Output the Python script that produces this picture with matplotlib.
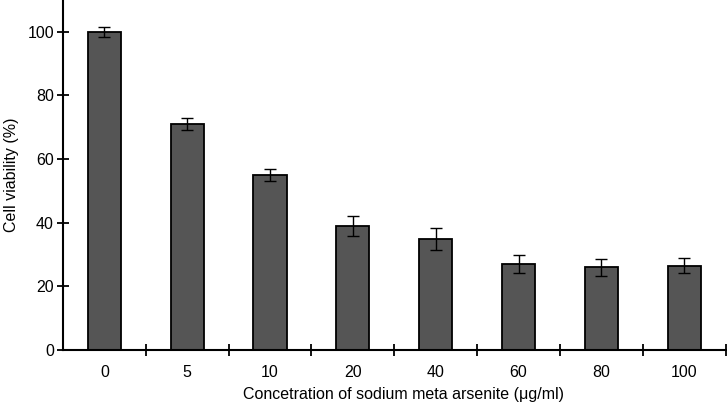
import matplotlib.pyplot as plt
import numpy as np

plt.rcParams['font.family'] = ['Liberation Sans', 'DejaVu Sans']

CATEGORIES = ['0', '5', '10', '20', '40', '60', '80', '100']
VIABILITY = [100, 71, 55, 39, 35, 27, 26, 26.5]
ERRORS = [1.5, 2.0, 2.0, 3.2, 3.5, 2.8, 2.6, 2.3]

fig = plt.figure(figsize=(7.27, 4.07), dpi=100)
ax = fig.add_axes([63 / 727, 1 - 350 / 407, 1 - 63 / 727 - 0.002, 350 / 407])

x = np.arange(len(CATEGORIES))
ax.bar(x, VIABILITY, width=0.4, color='#555555', edgecolor='black', linewidth=1.3,
       yerr=ERRORS, capsize=4, error_kw={'elinewidth': 1, 'capthick': 1, 'ecolor': 'black'})

ax.set_xlim(-0.5, len(CATEGORIES) - 0.5)
ax.set_ylim(0, 110)

ax.spines['top'].set_visible(False)
ax.spines['right'].set_visible(False)
ax.spines['left'].set_linewidth(1.5)
ax.spines['bottom'].set_linewidth(1.5)

ax.set_yticks([0, 20, 40, 60, 80, 100])
ax.tick_params(axis='y', direction='inout', length=9, width=1.3, labelsize=11.5, pad=2)

# boundary ticks between groups, labels at bar centres
ax.set_xticks(np.arange(0.5, len(CATEGORIES), 1.0))
ax.set_xticklabels([])
ax.tick_params(axis='x', which='major', direction='inout', length=9, width=1.3)
ax.set_xticks(x, minor=True)
ax.set_xticklabels(CATEGORIES, minor=True)
ax.tick_params(axis='x', which='minor', length=0, labelsize=11.5, pad=11)

ax.set_ylabel('Cell viability (%)', fontsize=11.5, labelpad=6)
ax.set_xlabel('Concetration of sodium meta arsenite (\u03bcg/ml)', fontsize=11.5, labelpad=5)
ax.xaxis.label.set_x(0.514)

fig.savefig('out.png', dpi=100)
